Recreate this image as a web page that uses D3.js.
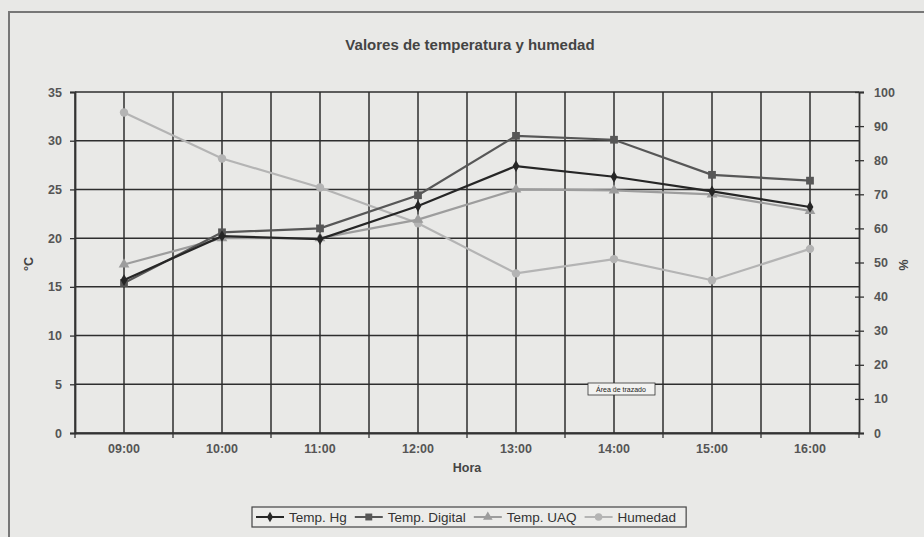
<!DOCTYPE html>
<html>
<head>
<meta charset="utf-8">
<script src="https://cdn.jsdelivr.net/npm/d3@7"></script>
<style>
  body { margin: 0; background: #e8e8e6; }
  svg { font-family: "Liberation Sans", Arial, sans-serif; }
</style>
</head>
<body>
<svg id="chart" width="924" height="537"></svg>
<script>
// Data
const horas = ["09:00", "10:00", "11:00", "12:00", "13:00", "14:00", "15:00", "16:00"];
const tempHg = [15.7, 20.2, 19.9, 23.3, 27.4, 26.3, 24.8, 23.2];
const tempDigital = [15.4, 20.6, 21.0, 24.4, 30.5, 30.1, 26.5, 25.9];
const tempUAQ = [17.3, 20.0, 20.0, 21.9, 25.0, 24.9, 24.5, 22.8];
const humedad = [94, 80.5, 72, 61.5, 46.8, 51, 44.8, 54];
const leftTicks = [0, 5, 10, 15, 20, 25, 30, 35];
const rightTicks = [0, 10, 20, 30, 40, 50, 60, 70, 80, 90, 100];

const width = 924, height = 537;
const margin = {top: 92, right: 65, bottom: 104, left: 75};
const svg = d3.select("#chart");

// outer chart border (scanned, runs off right/bottom)
svg.append("rect")
    .attr("x", 9).attr("y", 12)
    .attr("width", 930).attr("height", 540)
    .attr("fill", "#e9e9e7")
    .attr("stroke", "#777").attr("stroke-width", 2);

const xScale = d3.scaleBand()
    .domain(horas)
    .range([margin.left, width - margin.right]);

const yLeft = d3.scaleLinear()
    .domain([0, 35])
    .range([height - margin.bottom, margin.top]);

const yRight = d3.scaleLinear()
    .domain([0, 100])
    .range([height - margin.bottom, margin.top]);

const cx = d => xScale(d) + xScale.bandwidth() / 2;

// grid
const grid = svg.append("g").attr("stroke", "#2e2e2e").attr("stroke-width", 1.5);
leftTicks.forEach(t => {
    grid.append("line")
        .attr("x1", margin.left).attr("x2", width - margin.right)
        .attr("y1", yLeft(t)).attr("y2", yLeft(t));
});
horas.forEach(h => {
    [xScale(h), cx(h)].forEach(x => {
        grid.append("line")
            .attr("x1", x).attr("x2", x)
            .attr("y1", margin.top).attr("y2", height - margin.bottom);
    });
});

// axes
const axisL = svg.append("g")
    .attr("transform", `translate(${margin.left},0)`)
    .call(d3.axisLeft(yLeft).tickValues(leftTicks).tickSize(5).tickPadding(8));

const axisR = svg.append("g")
    .attr("transform", `translate(${width - margin.right},0)`)
    .call(d3.axisRight(yRight).tickValues(rightTicks).tickSize(5).tickPadding(10));
axisR.selectAll(".tick line").attr("x1", -4);

const axisB = svg.append("g")
    .attr("transform", `translate(0,${height - margin.bottom})`)
    .call(d3.axisBottom(xScale).tickSize(0).tickPadding(11));
// tick marks on category boundaries
horas.concat([null]).forEach(h => {
    const x = h ? xScale(h) : width - margin.right;
    axisB.append("line")
        .attr("x1", x).attr("x2", x).attr("y1", 0).attr("y2", 5)
        .attr("stroke", "#333").attr("stroke-width", 1.3);
});

[axisL, axisR, axisB].forEach(a => {
    a.select(".domain").attr("stroke", "#333").attr("stroke-width", 1.8);
    a.selectAll(".tick line").attr("stroke", "#333").attr("stroke-width", 1.3);
    a.selectAll("text")
        .attr("font-size", "12.5px")
        .attr("font-weight", "bold")
        .attr("fill", "#555");
});
svg.selectAll(".domain").attr("fill", "none");

// titles
svg.append("text")
    .attr("x", 470).attr("y", 50)
    .attr("text-anchor", "middle")
    .attr("font-size", "15px").attr("font-weight", "bold").attr("fill", "#444")
    .text("Valores de temperatura y humedad");

svg.append("text")
    .attr("x", (margin.left + width - margin.right) / 2).attr("y", 472)
    .attr("text-anchor", "middle")
    .attr("font-size", "12.5px").attr("font-weight", "bold").attr("fill", "#444")
    .text("Hora");

svg.append("text")
    .attr("transform", "rotate(-90)")
    .attr("x", -264).attr("y", 33)
    .attr("text-anchor", "middle")
    .attr("font-size", "12.5px").attr("font-weight", "bold").attr("fill", "#444")
    .text("°C");

svg.append("text")
    .attr("transform", "rotate(90)")
    .attr("x", 265).attr("y", -899)
    .attr("text-anchor", "middle")
    .attr("font-size", "12.5px").attr("font-weight", "bold").attr("fill", "#444")
    .text("%");

// series
const series = [
    {name: "Temp. Hg", values: tempHg, scale: yLeft, color: "#262626", symbol: d3.symbolDiamond, size: 40},
    {name: "Temp. Digital", values: tempDigital, scale: yLeft, color: "#575757", symbol: d3.symbolSquare, size: 60},
    {name: "Temp. UAQ", values: tempUAQ, scale: yLeft, color: "#9d9d9d", symbol: d3.symbolTriangle, size: 50},
    {name: "Humedad", values: humedad, scale: yRight, color: "#b4b4b4", symbol: d3.symbolCircle, size: 55}
];

series.slice().reverse().forEach(s => {
    const line = d3.line()
        .x((d, i) => cx(horas[i]))
        .y(d => s.scale(d));
    svg.append("path")
        .datum(s.values)
        .attr("fill", "none")
        .attr("stroke", s.color)
        .attr("stroke-width", 2.2)
        .attr("d", line);
    svg.selectAll(null)
        .data(s.values)
        .enter()
        .append("path")
        .attr("d", d3.symbol().type(s.symbol).size(s.size))
        .attr("transform", (d, i) => `translate(${cx(horas[i])},${s.scale(d)})`)
        .attr("fill", s.color);
});

// Excel "Área de trazado" tooltip
const tip = svg.append("g").attr("transform", "translate(588,383)");
tip.append("rect")
    .attr("width", 67).attr("height", 12)
    .attr("fill", "#f2f2f0").attr("stroke", "#333").attr("stroke-width", 0.8);
tip.append("text")
    .attr("x", 33).attr("y", 9)
    .attr("text-anchor", "middle")
    .attr("font-size", "7px").attr("fill", "#222")
    .text("Área de trazado");

// legend
const legend = svg.append("g").attr("transform", "translate(252,507)");
const legendBox = legend.append("rect")
    .attr("height", 20)
    .attr("fill", "#ececea").attr("stroke", "#444").attr("stroke-width", 1.2);
let lx = 4;
series.forEach(s => {
    legend.append("line")
        .attr("x1", lx).attr("x2", lx + 28)
        .attr("y1", 10).attr("y2", 10)
        .attr("stroke", s.color).attr("stroke-width", 2);
    legend.append("path")
        .attr("d", d3.symbol().type(s.symbol).size(s.size * 0.8))
        .attr("transform", `translate(${lx + 14},10)`)
        .attr("fill", s.color);
    const t = legend.append("text")
        .attr("x", lx + 33).attr("y", 14.5)
        .attr("font-size", "13.5px").attr("fill", "#333")
        .text(s.name);
    lx += 33 + t.node().getComputedTextLength() + 8;
});
legendBox.attr("width", lx + 2);
</script>
</body>
</html>
